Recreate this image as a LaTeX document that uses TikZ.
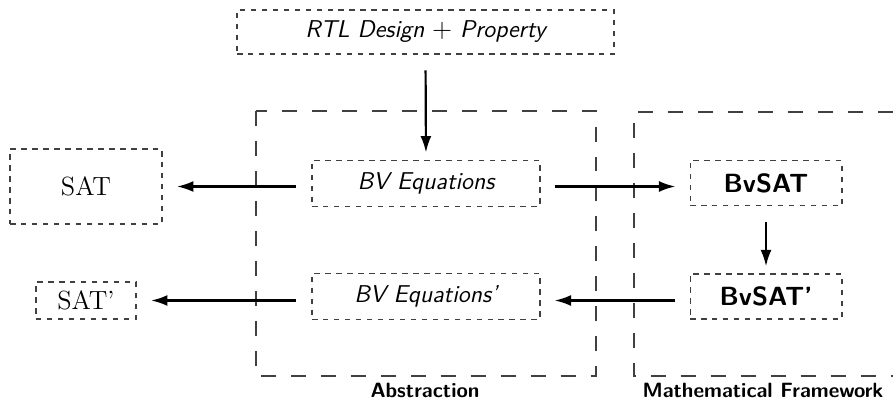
\documentclass[tikz,border=0pt]{standalone}
\usepackage{fontspec}
\usetikzlibrary{arrows.meta}
\begin{document}
\begin{tikzpicture}[x=0.547pt,y=-0.547pt,
  box/.style={draw=black!75, dashed, line width=0.6pt, inner sep=0pt},
  region/.style={draw=black!75, line width=0.6pt, dash pattern=on 8.2pt off 8.2pt},
  eqtext/.style={font=\fontsize{13.3}{15}\selectfont\sffamily\itshape},
  flow/.style={-{Latex[length=9pt,width=6pt]}, line width=1.2pt},
  tag/.style={font=\fontsize{11.3}{13}\selectfont\sffamily\bfseries, anchor=base}]
\useasboundingbox (0,0) rectangle (893,414);

% the two framed regions
\draw[region] (256,111) rectangle (596,376);
\draw[region] (893,112) -- (634,112) -- (634,376) -- (893,376);

% input
\node[box, eqtext, minimum width=206.2pt, minimum height=24.1pt]
  (rtl) at (425.5,32) {RTL Design $+$ Property};

% abstraction layer
\node[box, eqtext, minimum width=124.7pt, minimum height=24.9pt]
  (bv) at (426,183.3) {BV Equations};
\node[box, eqtext, minimum width=124.7pt, minimum height=24.9pt]
  (bvp) at (426,296.3) {BV Equations'};

% mathematical framework
\node[box, minimum width=83.1pt, minimum height=24.6pt, font=\Large\sffamily\bfseries]
  (bvsat) at (766,183.3) {BvSAT};
\node[box, minimum width=83.1pt, minimum height=24.6pt, font=\Large\sffamily\bfseries]
  (bvsatp) at (766,296.5) {BvSAT'};

% plain SAT encodings
\node[box, minimum width=83.1pt, minimum height=41pt, font=\Large]
  (sat) at (86,186.5) {SAT};
\node[box, minimum width=54.7pt, minimum height=20.2pt, font=\Large]
  (satp) at (86,300.5) {SAT'};

% connectors
\draw[flow, shorten <=8.7pt, shorten >=4.1pt] (rtl.south) -- (bv.north);
\draw[flow, shorten <=8.2pt, shorten >=7.9pt] (bv.west |- sat.east) -- (sat.east);
\draw[flow, shorten <=7.7pt, shorten >=7.7pt] (bv.east |- sat.east) -- (bvsat.west |- sat.east);
\draw[flow, shorten <=8.7pt, shorten >=3.9pt] (bvsat.south) -- (bvsatp.north);
\draw[flow, shorten <=7.7pt, shorten >=7.7pt] (bvsatp.west |- satp.east) -- (bvp.east |- satp.east);
\draw[flow, shorten <=8.2pt, shorten >=7.9pt] (bvp.west |- satp.east) -- (satp.east);

% region captions
\node[tag] (abs) at (425,397) {Abstraction};
\node[tag] (math) at (763,397) {Mathematical Framework};
\end{tikzpicture}
\end{document}
